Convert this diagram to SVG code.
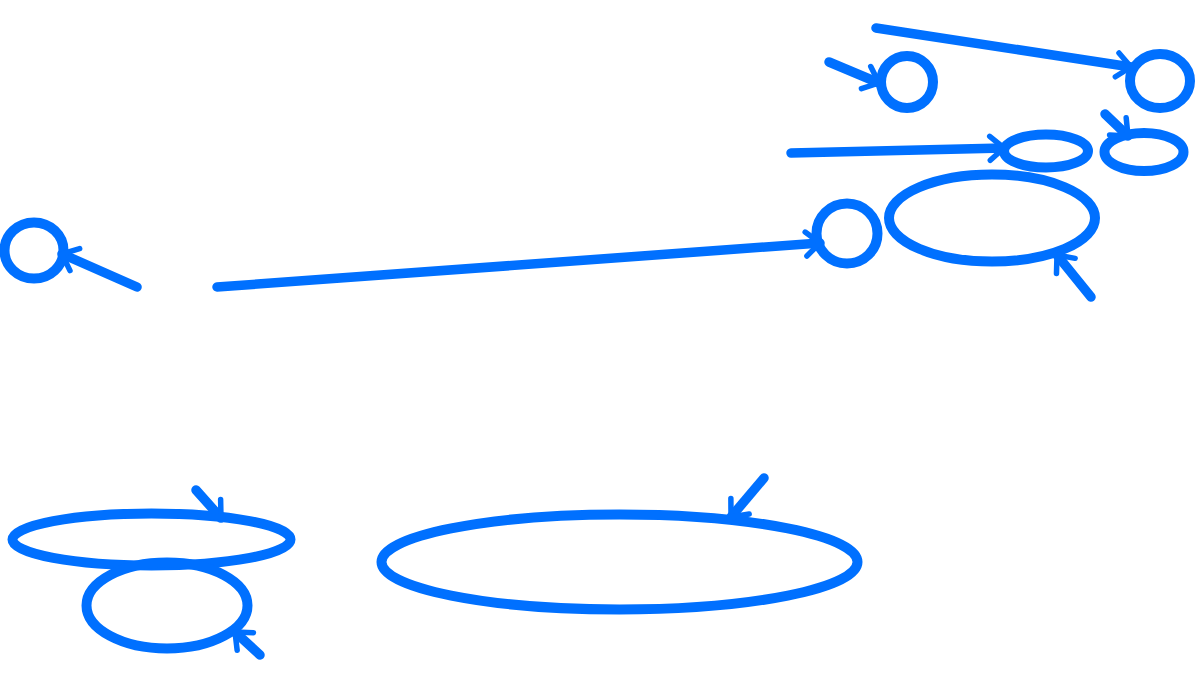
<svg xmlns="http://www.w3.org/2000/svg" width="1204" height="678" viewBox="0 0 1204 678">
<style>
.n{fill:none;stroke:#0070FF;stroke-width:10}
.c{fill:none;stroke:#0070FF;stroke-width:9.5;stroke-linecap:round}
.ah{fill:none;stroke:#0070FF;stroke-width:5.5;stroke-linecap:round;stroke-linejoin:round}
</style>
<defs>
<marker id="arr" markerUnits="userSpaceOnUse" viewBox="-20 -15 24 30" refX="0" refY="0" markerWidth="24" markerHeight="30" orient="auto" overflow="visible">
<path class="ah" d="M-14,-12 L0,0 L-14,12"/>
</marker>
</defs>
<rect width="1204" height="678" fill="#fff"/>
<g id="n1"><circle class="n" cx="907" cy="82" r="26"/></g>
<g id="n2"><ellipse class="n" cx="1160" cy="81" rx="30" ry="27"/></g>
<g id="n3"><ellipse class="n" cx="1046" cy="151" rx="42" ry="16.5"/></g>
<g id="n4"><ellipse class="n" cx="1144" cy="152" rx="39.5" ry="19"/></g>
<g id="n5"><ellipse class="n" cx="992" cy="218" rx="103" ry="43.5"/></g>
<g id="n6"><ellipse class="n" cx="847" cy="233.5" rx="30.5" ry="30"/></g>
<g id="n7"><ellipse class="n" cx="34" cy="250.5" rx="29.5" ry="28"/></g>
<g id="n8"><ellipse class="n" cx="151.5" cy="539.5" rx="139" ry="26"/></g>
<g id="n9"><ellipse class="n" cx="167" cy="605.5" rx="80.5" ry="43"/></g>
<g id="n10"><ellipse class="n" cx="619.5" cy="562" rx="238" ry="47.5"/></g>
<g id="connectors">
<path class="c" marker-end="url(#arr)" d="M876,28 L1131,67"/>
<path class="c" marker-end="url(#arr)" d="M829,62 L879,83"/>
<path class="c" marker-end="url(#arr)" d="M791,153 L1004,148"/>
<path class="c" marker-end="url(#arr)" d="M1105,114 L1128,136"/>
<path class="c" marker-end="url(#arr)" d="M1091,297 L1057,255"/>
<path class="c" marker-end="url(#arr)" d="M217,287 L820,243"/>
<path class="c" marker-end="url(#arr)" d="M137,287 L62,254"/>
<path class="c" marker-end="url(#arr)" d="M196,490 L221,518"/>
<path class="c" marker-end="url(#arr)" d="M764,478 L731,517"/>
<path class="c" marker-end="url(#arr)" d="M260,655 L235,632"/>
</g>
</svg>
